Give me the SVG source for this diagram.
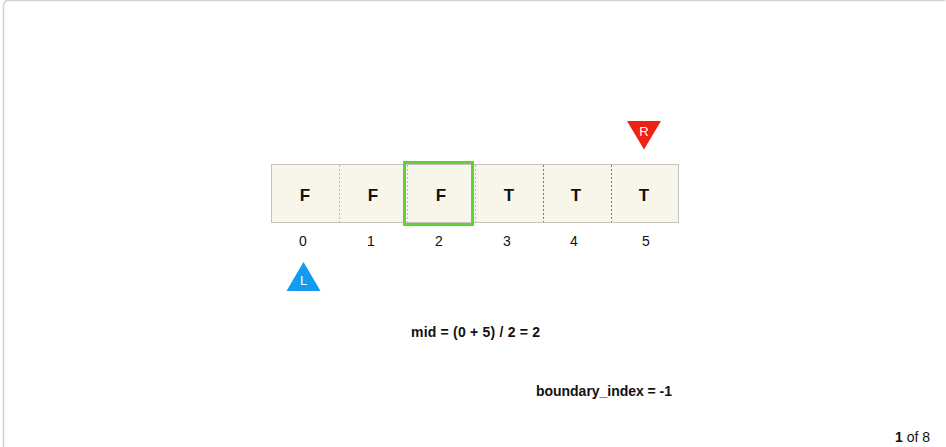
<svg xmlns="http://www.w3.org/2000/svg" width="946" height="447" viewBox="0 0 946 447">
<style>
.lbl{font-family:"Liberation Sans",Arial,sans-serif;font-weight:bold;font-size:17px;fill:#111;text-anchor:middle}
.idx{font-family:"Liberation Sans",Arial,sans-serif;font-size:14px;fill:#111;text-anchor:middle}
.txt{font-family:"Liberation Sans",Arial,sans-serif;font-weight:bold;font-size:14px;fill:#111}
.ptr{font-family:"Liberation Sans",Arial,sans-serif;font-size:13px;fill:#fff;text-anchor:middle}
.div{stroke:#bdbdb5;stroke-width:1;stroke-dasharray:2 2}
.divd{stroke:#777;stroke-width:1;stroke-dasharray:2 2}
</style>
<rect width="946" height="447" fill="#fff"/>
<path d="M3.5 460 V6 Q3.5 0.5 9 0.5 H945.5" fill="none" stroke="#d4d4d4" stroke-width="1.5"/>
<g id="array">
<rect x="271.5" y="164.5" width="407" height="58" fill="#f8f6ea" stroke="#c4c4bc" stroke-width="1"/>
<line class="div" x1="339.5" y1="165" x2="339.5" y2="222"/>
<line class="div" x1="407.5" y1="165" x2="407.5" y2="222"/>
<line class="div" x1="475.5" y1="165" x2="475.5" y2="222"/>
<line class="divd" x1="543.5" y1="165" x2="543.5" y2="222"/>
<line class="divd" x1="611.5" y1="165" x2="611.5" y2="222"/>
</g>
<g id="cell0"><text class="lbl" x="305" y="201">F</text><text class="idx" x="303" y="246">0</text></g>
<g id="cell1"><text class="lbl" x="373" y="201">F</text><text class="idx" x="371" y="246">1</text></g>
<g id="cell2"><rect x="404.5" y="162.5" width="68" height="62" fill="none" stroke="#5fd236" stroke-width="3"/><text class="lbl" x="441" y="201">F</text><text class="idx" x="439" y="246">2</text></g>
<g id="cell3"><text class="lbl" x="509" y="201">T</text><text class="idx" x="507" y="246">3</text></g>
<g id="cell4"><text class="lbl" x="576" y="201">T</text><text class="idx" x="574" y="246">4</text></g>
<g id="cell5"><text class="lbl" x="644" y="201">T</text><text class="idx" x="646" y="246">5</text></g>
<g id="pointerR"><polygon points="627,121 661,121 644,149.5" fill="#ee2211"/><text class="ptr" x="644" y="136">R</text></g>
<g id="pointerL"><polygon points="303.5,262 320.5,291 286.5,291" fill="#119cf0"/><text class="ptr" x="303.5" y="285">L</text></g>
<g id="connectors"/>
<text class="txt" x="411" y="337" textLength="129">mid = (0 + 5) / 2 = 2</text>
<text class="txt" x="536" y="396" textLength="136">boundary_index = -1</text>
<text x="930" y="442" font-family="'Liberation Sans',Arial,sans-serif" font-size="14" fill="#111" text-anchor="end"><tspan font-weight="bold">1</tspan> of 8</text>
</svg>
